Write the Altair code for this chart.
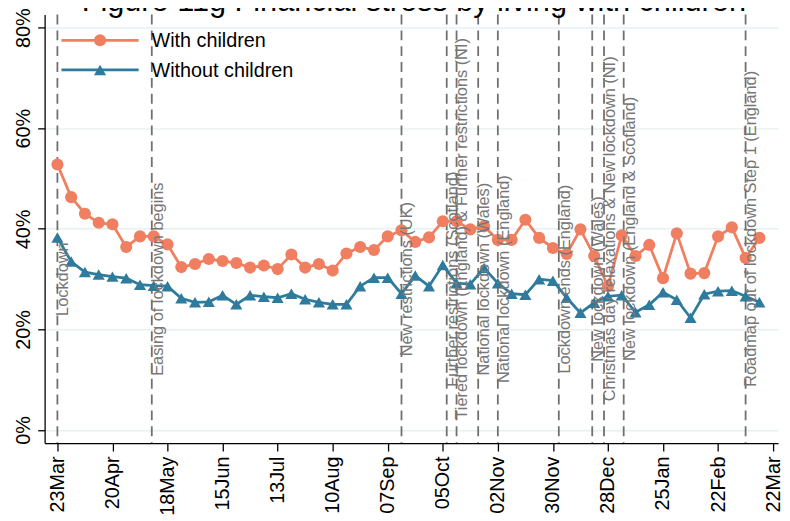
import altair as alt
import pandas as pd

# ---------------- data ----------------
week_dates = [
    "2020-03-23", "2020-03-30", "2020-04-06", "2020-04-13", "2020-04-20", "2020-04-27",
    "2020-05-04", "2020-05-11", "2020-05-18", "2020-05-25", "2020-06-01", "2020-06-08",
    "2020-06-15", "2020-06-22", "2020-06-29", "2020-07-06", "2020-07-13", "2020-07-20",
    "2020-07-27", "2020-08-03", "2020-08-10", "2020-08-17", "2020-08-24", "2020-08-31",
    "2020-09-07", "2020-09-14", "2020-09-21", "2020-09-28", "2020-10-05", "2020-10-12",
    "2020-10-19", "2020-10-26", "2020-11-02", "2020-11-09", "2020-11-16", "2020-11-23",
    "2020-11-30", "2020-12-07", "2020-12-14", "2020-12-21", "2020-12-28", "2021-01-04",
    "2021-01-11", "2021-01-18", "2021-01-25", "2021-02-01", "2021-02-08", "2021-02-15",
    "2021-02-22", "2021-03-01", "2021-03-08", "2021-03-15",
]
with_children = [
    52.8, 46.3, 43.0, 41.2, 40.9, 36.4, 38.5, 38.5, 36.9, 32.4, 33.0, 34.0, 33.6,
    33.2, 32.3, 32.7, 32.0, 34.9, 32.3, 33.0, 31.7, 35.1, 36.4, 35.8, 38.5, 39.7,
    37.4, 38.3, 41.5, 41.5, 39.9, 40.5, 37.8, 37.8, 41.8, 38.2, 36.2, 35.0, 39.9,
    34.6, 28.6, 38.7, 34.6, 36.8, 30.2, 39.1, 31.1, 31.2, 38.5, 40.3, 34.2, 38.2,
]
without_children = [
    38.3, 33.5, 31.4, 30.9, 30.5, 30.2, 28.9, 28.7, 28.6, 26.2, 25.4, 25.5, 26.8,
    25.0, 26.8, 26.5, 26.3, 27.1, 26.0, 25.4, 25.0, 25.0, 28.6, 30.3, 30.3, 27.1,
    30.7, 28.6, 32.8, 29.2, 29.0, 32.2, 29.2, 27.1, 26.9, 30.0, 29.7, 26.3, 23.3,
    25.3, 26.6, 26.8, 23.4, 24.9, 27.4, 25.9, 22.3, 27.0, 27.6, 27.7, 26.6, 25.4,
]
series_names = ["With children", "Without children"]
series_colors = ["#F07F61", "#2F7B9D"]
series_shapes = ["circle", "triangle-up"]

tick_dates = [
    "2020-03-23", "2020-04-20", "2020-05-18", "2020-06-15", "2020-07-13", "2020-08-10",
    "2020-09-07", "2020-10-05", "2020-11-02", "2020-11-30", "2020-12-28", "2021-01-25",
    "2021-02-22", "2021-03-22",
]
tick_labels = ["23Mar", "20Apr", "18May", "15Jun", "13Jul", "10Aug", "07Sep",
               "05Oct", "02Nov", "30Nov", "28Dec", "25Jan", "22Feb", "22Mar"]

event_dates = [
    "2020-03-23", "2020-05-10", "2020-09-14", "2020-10-07", "2020-10-12", "2020-10-23",
    "2020-11-02", "2020-12-03", "2020-12-20", "2020-12-26", "2021-01-05", "2021-03-08",
]
event_labels = [
    "Lockdown",
    "Easing of lockdown begins",
    "New restrictions (UK)",
    "Further restrictions (Scotland)",
    "Tiered lockdown (England) & Further restrictions (NI)",
    "National lockdown (Wales)",
    "National lockdown (England)",
    "Lockdown ends (England)",
    "New lockdown (Wales)",
    "Christmas day relaxations & New lockdown (NI)",
    "New lockdown (England & Scotland)",
    "Roadmap out of lockdown Step 1 (England)",
]
event_label_y = [30, 30, 30, 30, 40, 30, 30, 30, 30, 40, 40, 40]

title_text = "Figure 11g Financial stress by living with children"

# ---------------- tables ----------------
origin = pd.Timestamp("2020-03-23")


def to_day(s):
    return int((pd.Timestamp(s) - origin).days)


week_days = [to_day(d) for d in week_dates]
tick_days = [to_day(d) for d in tick_dates]

df = pd.DataFrame({
    "day": week_days * 2,
    "value": with_children + without_children,
    "series": [series_names[0]] * len(week_days) + [series_names[1]] * len(week_days),
})
events = pd.DataFrame({
    "day": [to_day(d) for d in event_dates],
    "label": event_labels,
    "ypos": event_label_y,
})

FONT = "Liberation Sans"
W, H = 741, 433

label_expr = "[" + ",".join("'%s'" % s for s in tick_labels) + "][indexof([" + \
    ",".join(str(d) for d in tick_days) + "], datum.value)]"

xscale = alt.Scale(domain=[-6.5, 366.5], nice=False, zero=False)
yscale = alt.Scale(domain=[-2.6, 82.6], nice=False, zero=False)

x_axis = alt.Axis(values=tick_days, labelExpr=label_expr, title=None, grid=False,
                  labelAngle=270, labelFontSize=20, labelFont=FONT, labelColor="black",
                  tickSize=8, tickColor="black", tickWidth=1.3, domainColor="black",
                  domainWidth=1.3, labelPadding=5, labelFlush=False, labelOverlap=False)
y_axis = alt.Axis(values=[0, 20, 40, 60, 80], labelExpr="datum.value + '%'", title=None,
                  grid=True, gridColor="#E8F0F2", gridWidth=1.5,
                  labelAngle=270, labelFontSize=20, labelFont=FONT, labelColor="black",
                  tickSize=7, tickColor="black", tickWidth=1.3, domainColor="black",
                  domainWidth=1.3, labelPadding=4)

color_scale = alt.Scale(domain=series_names, range=series_colors)
shape_scale = alt.Scale(domain=series_names, range=series_shapes)

base = alt.Chart(df)

lines = base.mark_line(strokeWidth=2.8).encode(
    x=alt.X("day:Q", scale=xscale, axis=x_axis),
    y=alt.Y("value:Q", scale=yscale, axis=y_axis),
    color=alt.Color("series:N", scale=color_scale, legend=None),
    detail="series:N",
)
points = base.mark_point(filled=True, size=150, opacity=1).encode(
    x=alt.X("day:Q", scale=xscale),
    y=alt.Y("value:Q", scale=yscale),
    color=alt.Color("series:N", scale=color_scale, legend=None),
    shape=alt.Shape("series:N", scale=shape_scale, legend=None),
)

ev = alt.Chart(events)
rules = ev.mark_rule(color="#707070", strokeWidth=1.8, strokeDash=[10, 6]).encode(
    x=alt.X("day:Q", scale=xscale),
)
ev_text = ev.mark_text(angle=270, align="center", baseline="alphabetic", dy=11,
                       fontSize=16.5, font=FONT, color="#777777").encode(
    x=alt.X("day:Q", scale=xscale),
    y=alt.Y("ypos:Q", scale=yscale),
    text="label:N",
)

# manual legend (top-left, inside plot)
legend_layers = []
legend_rows = [26, 56]
for name, col, shp, yrow in zip(series_names, series_colors, series_shapes, legend_rows):
    one = alt.Chart(pd.DataFrame({"label": [name]}))
    legend_layers.append(one.mark_rule(color=col, strokeWidth=2.8).encode(
        x=alt.value(17), x2=alt.value(95), y=alt.value(yrow)))
    legend_layers.append(one.mark_point(filled=True, size=150, opacity=1, color=col,
                                        shape=shp).encode(x=alt.value(56), y=alt.value(yrow)))
    legend_layers.append(one.mark_text(align="left", baseline="middle", fontSize=20,
                                       font=FONT, color="black").encode(
        x=alt.value(108), y=alt.value(yrow + 1), text="label:N"))

title = alt.Chart(pd.DataFrame({"t": [title_text]})).mark_text(
    align="center", baseline="alphabetic", fontSize=31, font=FONT, color="black"
).encode(x=alt.value(373), y=alt.value(-4), text="t:N")

chart = alt.layer(rules, lines, points, ev_text, *legend_layers, title).properties(
    width=W, height=H,
    autosize=alt.AutoSizeParams(type="none"),
    padding={"left": 37, "top": 4, "right": 4, "bottom": 70},
    background="white",
).configure_view(stroke=None)

chart.save("out.html", embed_options={"renderer": "svg", "actions": False})
